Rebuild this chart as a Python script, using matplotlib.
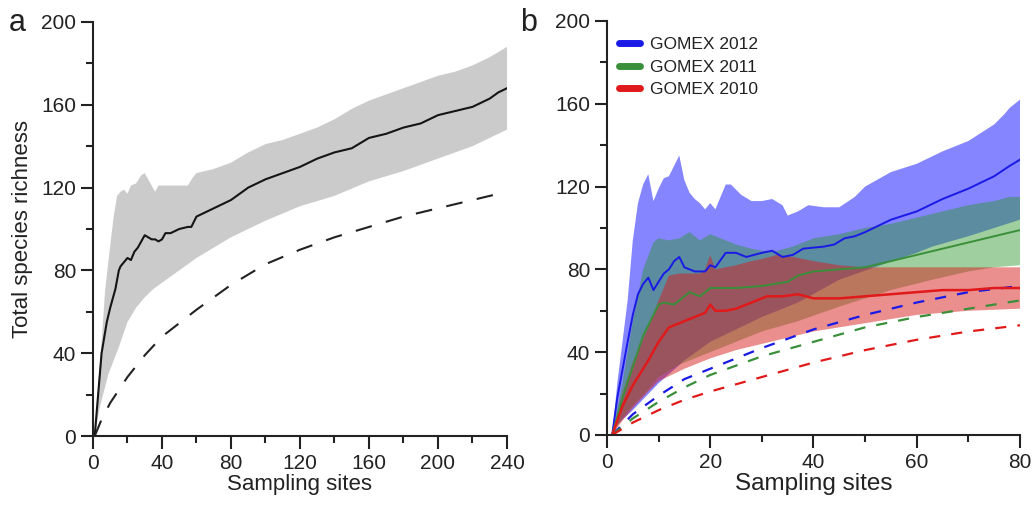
import matplotlib
matplotlib.use("Agg")
import matplotlib.pyplot as plt
from matplotlib.lines import Line2D
from matplotlib.ticker import MultipleLocator

plt.rcParams['font.family'] = ['Liberation Sans', 'DejaVu Sans']

# ---- painel a: todos os cruzeiros ----
xa_media = [1, 2, 4, 5, 8, 10, 13, 15, 16, 18, 20, 22, 24, 26, 28, 30, 32, 34, 36, 38, 40, 42, 45,
            50, 55, 57, 60, 65, 70, 75, 80, 85, 90, 95, 100, 110, 120, 130, 140, 150, 160, 170,
            180, 190, 200, 210, 220, 230, 235, 240]
ya_media = [0, 10, 30, 40, 55, 62, 71, 80, 82, 84, 86, 85, 89, 91, 94, 97, 96, 95, 95, 94, 95, 98, 98,
            100, 101, 101, 106, 108, 110, 112, 114, 117, 120, 122, 124, 127, 130, 134, 137, 139, 144, 146,
            149, 151, 155, 157, 159, 163, 166, 168]

xa_sup = [1, 3, 5, 7, 10, 12, 14, 16, 18, 20, 22, 25, 28, 30, 32, 34, 36, 38, 40, 45, 50, 55, 58, 60,
          70, 80, 90, 100, 110, 120, 130, 140, 150, 160, 170, 180, 190, 200, 210, 220, 230, 240]
ya_sup = [0, 25, 45, 70, 92, 106, 116, 118, 119, 117, 121, 122, 126, 127, 124, 121, 118, 121, 121, 121,
          121, 121, 125, 127, 129, 132, 137, 141, 143, 146, 149, 153, 158, 162, 165, 168, 171, 174, 176,
          179, 183, 188]

xa_inf = [1, 4, 9, 15, 20, 25, 30, 35, 40, 50, 60, 70, 80, 90, 100, 120, 140, 160, 180, 200, 220, 240]
ya_inf = [0, 14, 30, 43, 55, 62, 67, 71, 74, 80, 86, 91, 96, 100, 104, 111, 116, 123, 128, 134, 140, 148]

xa_trac = [1, 5, 10, 20, 30, 40, 60, 80, 100, 120, 140, 160, 180, 200, 220, 240]
ya_trac = [0, 8, 16, 28.5, 39, 48, 61, 73, 83, 90, 96, 101, 106, 110, 114, 118]

# ---- painel b: por cruzeiro ----
anos = ["GOMEX 2012", "GOMEX 2011", "GOMEX 2010"]

xb_2012_sup = [1, 2, 4, 5, 6, 7, 8, 9, 10, 11, 12, 13, 14, 15, 16, 17, 18, 19, 20, 21, 22, 23, 24, 26,
               28, 30, 32, 34, 35, 37, 39, 42, 45, 48, 50, 55, 60, 65, 70, 75, 77, 78, 80]
yb_2012_sup = [0, 25, 65, 94, 112, 121, 126, 113, 119, 124, 125, 130, 135, 123, 117, 114, 112, 109, 112,
               109, 115, 121, 121, 116, 113, 113, 114, 111, 106, 108, 111, 110, 110, 115, 120, 127, 131,
               137, 142, 150, 155, 158, 162]
xb_2012_med = [1, 2, 4, 5, 6, 7, 8, 9, 10, 11, 12, 13, 14, 15, 17, 19, 20, 21, 23, 25, 27, 30, 32, 34,
               36, 38, 42, 44, 46, 48, 50, 55, 60, 65, 70, 75, 78, 80]
yb_2012_med = [0, 18, 45, 58, 68, 73, 76, 70, 74, 78, 80, 84, 86, 81, 79, 79, 82, 81, 88, 88, 86, 88, 89,
               86, 87, 90, 91, 92, 95, 96, 98, 104, 108, 114, 119, 125, 130, 133]
xb_2012_inf = [1, 2, 5, 10, 15, 20, 25, 30, 37, 45, 53, 60, 63, 70, 75, 80]
yb_2012_inf = [0, 5, 12, 25, 36, 45, 51, 57, 64, 75, 82, 88, 91, 96, 100, 104]

xb_2011_sup = [1, 3, 5, 7, 9, 10, 12, 14, 16, 18, 20, 22, 25, 28, 30, 33, 36, 40, 45, 50, 55, 60, 65,
               70, 75, 78, 80]
yb_2011_sup = [0, 25, 55, 80, 93, 95, 94, 95, 98, 94, 97, 95, 92, 90, 89, 89, 91, 95, 97, 100, 102, 105,
               108, 111, 113, 115, 115]
xb_2011_med = [1, 3, 5, 7, 9, 10, 11, 13, 14, 16, 18, 20, 22, 25, 30, 35, 37, 40, 45, 50, 55, 60, 65,
               70, 75, 80]
yb_2011_med = [0, 18, 33, 48, 58, 63, 64, 63, 65, 69, 67, 71, 71, 71, 72, 74, 77, 79, 80, 81, 84, 87, 90,
               93, 96, 99]
xb_2011_inf = [1, 3, 5, 8, 10, 14, 20, 25, 30, 37, 45, 55, 63, 70, 75, 80]
yb_2011_inf = [0, 8, 14, 22, 28, 34, 40, 45, 50, 55, 62, 70, 75, 79, 81, 82]

xb_2010_sup = [1, 3, 5, 8, 10, 12, 14, 16, 18, 19, 20, 21, 23, 25, 28, 30, 33, 36, 40, 45, 50, 60, 70, 80]
yb_2010_sup = [0, 20, 35, 52, 65, 77, 78, 78, 78, 80, 87, 80, 81, 82, 84, 85, 87, 86, 84, 82, 81, 81, 81, 81]
xb_2010_med = [1, 3, 5, 8, 10, 12, 14, 16, 18, 19, 20, 21, 23, 25, 28, 31, 34, 37, 40, 45, 50, 55, 60,
               65, 70, 75, 80]
yb_2010_med = [0, 14, 24, 36, 45, 52, 54, 56, 58, 59, 63, 60, 60, 61, 64, 67, 67, 68, 66, 66, 67, 68, 69,
               70, 70, 71, 71]
xb_2010_inf = [1, 3, 5, 8, 10, 15, 20, 25, 30, 35, 40, 50, 60, 70, 80]
yb_2010_inf = [0, 7, 13, 21, 26, 32, 37, 41, 44, 47, 50, 54, 58, 60, 61]

xb_trac = [1, 5, 10, 15, 20, 30, 40, 50, 60, 70, 80]
yb_trac_2012 = [0, 10, 19, 27, 32, 42, 51, 58, 64, 69, 72]
yb_trac_2011 = [0, 8, 16, 23, 29, 38, 45, 52, 57, 61, 65]
yb_trac_2010 = [0, 6, 12, 17, 21, 28, 35, 41, 46, 50, 53]

cores_linha = ['#1a1ae6', '#3a8f3a', '#e01a1a']
cores_banda = ['#0000ff', '#2a962a', '#d81e1e']
alfas = [0.48, 0.45, 0.5]


def estilo_eixo(ax, xmax, xmaj, xmin):
    for lado in ['top', 'right']:
        ax.spines[lado].set_visible(False)
    for lado in ['left', 'bottom']:
        ax.spines[lado].set_linewidth(1.5)
        ax.spines[lado].set_color('#222222')
    ax.set_xlim(0, xmax)
    ax.set_ylim(0, 200)
    ax.xaxis.set_major_locator(MultipleLocator(xmaj))
    ax.xaxis.set_minor_locator(MultipleLocator(xmin))
    ax.yaxis.set_major_locator(MultipleLocator(40))
    ax.yaxis.set_minor_locator(MultipleLocator(20))
    ax.tick_params(which='major', length=9, width=1.5, color='#222222', labelsize=15, pad=3,
                   labelcolor='#222222')
    ax.tick_params(which='minor', length=5, width=1.5, color='#222222')
    ax.tick_params(axis='x', pad=4)


def banda(ax, xs, ys, xi, yi, **kw):
    # poligono: borda superior ida, borda inferior volta
    ax.fill(list(xs) + list(xi)[::-1], list(ys) + list(yi)[::-1], lw=0, **kw)


fig = plt.figure(figsize=(10.33, 5.09), dpi=100)
ax_a = fig.add_axes([0.090, 0.1434, 0.4008, 0.8134])
ax_b = fig.add_axes([0.5876, 0.1454, 0.3998, 0.8134])

# painel a
banda(ax_a, xa_sup, ya_sup, xa_inf, ya_inf, color='#cbcbcb')
ax_a.plot(xa_media, ya_media, color='#151515', lw=1.5)
ax_a.plot(xa_trac, ya_trac, color='#222222', lw=1.5, dashes=(8, 7))
estilo_eixo(ax_a, 240, 40, 20)
ax_a.set_xlabel("Sampling sites", fontsize=16, labelpad=1, color='#222222')
ax_a.set_ylabel("Total species richness", fontsize=16, labelpad=6, color='#222222')
fig.text(0.008, 0.955, "a", fontsize=22, va='center', ha='left', color='#222222')

# painel b: banda, media e tracejado de cada ano
grupos = [
    (xb_2012_sup, yb_2012_sup, xb_2012_inf, yb_2012_inf, xb_2012_med, yb_2012_med, yb_trac_2012),
    (xb_2011_sup, yb_2011_sup, xb_2011_inf, yb_2011_inf, xb_2011_med, yb_2011_med, yb_trac_2011),
    (xb_2010_sup, yb_2010_sup, xb_2010_inf, yb_2010_inf, xb_2010_med, yb_2010_med, yb_trac_2010),
]
for i, (xs, ys, xi, yi, xm, ym, yt) in enumerate(grupos):
    banda(ax_b, xs, ys, xi, yi, color=cores_banda[i], alpha=alfas[i])
    ax_b.plot(xm, ym, color=cores_linha[i], lw=1.4 if i < 2 else 1.8)
    ax_b.plot(xb_trac, yt, color=cores_linha[i], lw=1.6, dashes=(5, 5))

estilo_eixo(ax_b, 80, 20, 10)
ax_b.set_xlabel("Sampling sites", fontsize=17.5, labelpad=1, color='#222222')
fig.text(0.503, 0.955, "b", fontsize=22, va='center', ha='left', color='#222222')

alcas = [Line2D([0], [0], color=c, lw=5, solid_capstyle='round') for c in cores_linha]
ax_b.legend(alcas, anos, loc='upper left', bbox_to_anchor=(0.0, 0.99), frameon=False,
            fontsize=12.5, handlelength=1.2, handletextpad=0.6, labelspacing=0.42,
            borderaxespad=0.3, labelcolor='#222222')

fig.savefig("out.png", dpi=100)
